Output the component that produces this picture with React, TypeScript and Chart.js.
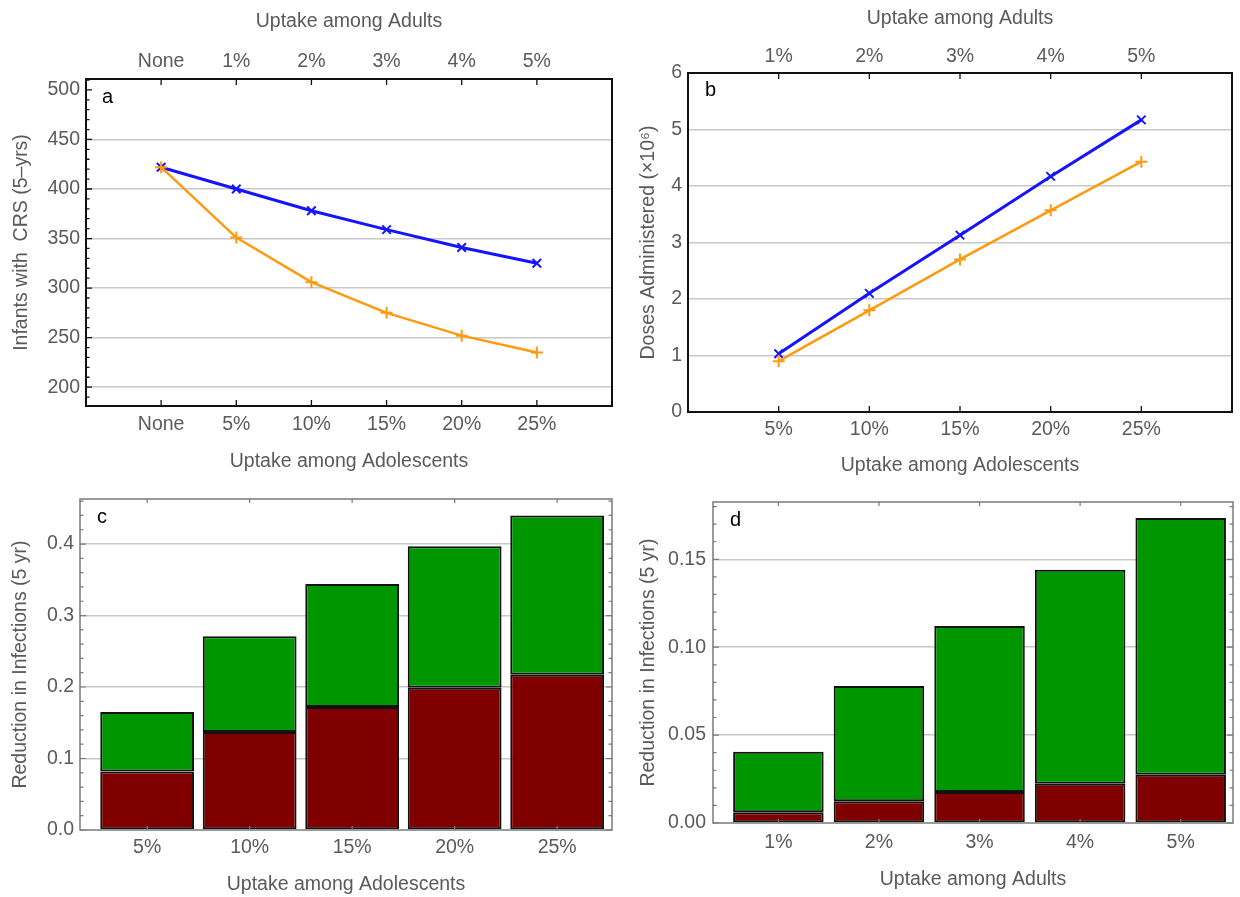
import { useEffect, useRef } from 'react';
import { Chart, registerables } from 'chart.js';

Chart.register(...registerables);

// ---------------- data ----------------
const A_ADOLESCENT_LABELS = ['None', '5%', '10%', '15%', '20%', '25%'];
const A_ADULT_LABELS = ['None', '1%', '2%', '3%', '4%', '5%'];
const A_BLUE = [422, 400, 378, 359, 341, 325];
const A_ORANGE = [422, 351, 306, 275, 252, 235];
const A_Y_TICKS = [200, 250, 300, 350, 400, 450, 500];
const A_Y_GRID = [200, 250, 300, 350, 400, 450];

const B_ADOLESCENT_LABELS = ['5%', '10%', '15%', '20%', '25%'];
const B_ADULT_LABELS = ['1%', '2%', '3%', '4%', '5%'];
const B_BLUE = [1.03, 2.1, 3.13, 4.17, 5.17];
const B_ORANGE = [0.9, 1.8, 2.7, 3.57, 4.43];
const B_Y_TICKS = [0, 1, 2, 3, 4, 5, 6];
const B_Y_GRID = [1, 2, 3, 4, 5];

const C_LABELS = ['5%', '10%', '15%', '20%', '25%'];
const C_RED = [0.082, 0.137, 0.172, 0.199, 0.217];
const C_GREEN = [0.083, 0.134, 0.172, 0.198, 0.223];
const C_Y_TICKS = [0, 0.1, 0.2, 0.3, 0.4];
const C_Y_GRID = [0.1, 0.2, 0.3, 0.4];

const D_LABELS = ['1%', '2%', '3%', '4%', '5%'];
const D_RED = [0.0061, 0.0124, 0.0176, 0.0223, 0.0275];
const D_GREEN = [0.0344, 0.0656, 0.0944, 0.1217, 0.146];
const D_Y_TICKS = [0, 0.05, 0.1, 0.15];
const D_Y_GRID = [0.05, 0.1, 0.15];

// ---------------- style ----------------
const PAGE_W = 1240;
const PAGE_H = 897;
const FAMILY = "'Liberation Sans', Arial, sans-serif";
const FONT_SIZE = 19.5;
const TEXT = '#5a5a5a';
const GRID = '#c8c8c8';
const BLUE = '#1414ff';
const ORANGE = '#ff9a10';
const RED = '#800000';
const GREEN = '#009600';
const EDGE = '#111111';

const font = { family: FAMILY, size: FONT_SIZE };

function fixedSize(size: number, horizontal: boolean) {
  return (s: any) => {
    if (horizontal) s.height = size;
    else s.width = size;
    s.paddingLeft = 0;
    s.paddingRight = 0;
    s.paddingTop = 0;
    s.paddingBottom = 0;
  };
}

function setTicks(values: number[]) {
  return (s: any) => {
    s.ticks = values.map((v) => ({ value: v }));
  };
}

function xAxis(o: any) {
  return {
    type: 'linear',
    position: o.position,
    min: o.min,
    max: o.max,
    offset: false,
    stacked: o.stacked || false,
    afterBuildTicks: setTicks(o.ticks),
    afterFit: fixedSize(o.size, true),
    grid: { display: false, drawTicks: false },
    border: { display: false },
    ticks: {
      autoSkip: false,
      maxRotation: 0,
      padding: o.pad,
      color: TEXT,
      font,
      callback: (_v: any, i: number) => o.labels[i] ?? '',
    },
    title: { display: true, text: o.title, color: TEXT, font, padding: 0 },
  };
}

function yAxis(o: any) {
  return {
    type: 'linear',
    position: 'left',
    min: o.min,
    max: o.max,
    stacked: o.stacked || false,
    afterBuildTicks: setTicks(o.ticks),
    afterFit: fixedSize(o.size, false),
    grid: {
      drawTicks: false,
      lineWidth: 1.5,
      color: (c: any) => (o.grid.includes(c.tick?.value) ? GRID : 'rgba(0,0,0,0)'),
    },
    border: { display: false },
    ticks: {
      autoSkip: false,
      padding: o.pad,
      color: TEXT,
      font,
      callback: (v: number) => o.fmt(v),
    },
    title: { display: true, text: o.title, color: TEXT, font, padding: 0 },
  };
}

function pad(area: any, wl: number, ht: number, hb: number) {
  return {
    left: area.l - wl,
    top: area.t - ht,
    right: PAGE_W - area.r,
    bottom: PAGE_H - area.b - hb,
  };
}

const framePlugin = {
  id: 'panelFrame',
  afterDraw(chart: any, _a: any, o: any) {
    const { ctx, chartArea: A } = chart;
    const xs = chart.scales.x;
    const ys = chart.scales.y;
    ctx.save();
    ctx.strokeStyle = o.color;
    ctx.lineWidth = o.tickWidth;
    ctx.beginPath();
    xs.ticks.forEach((t: any) => {
      const px = xs.getPixelForValue(t.value);
      if (o.xBottom) {
        ctx.moveTo(px, A.bottom);
        ctx.lineTo(px, A.bottom - o.xLen);
      }
      if (o.xTop) {
        ctx.moveTo(px, A.top);
        ctx.lineTo(px, A.top + o.xLen);
      }
    });
    const yTick = (v: number, len: number) => {
      const py = ys.getPixelForValue(v);
      if (o.yLeft) {
        ctx.moveTo(A.left, py);
        ctx.lineTo(A.left + len, py);
      }
      if (o.yRight) {
        ctx.moveTo(A.right, py);
        ctx.lineTo(A.right - len, py);
      }
    };
    if (o.yLeft || o.yRight) {
      ys.ticks.forEach((t: any) => yTick(t.value, o.yLen));
      if (o.minorStep) {
        const n0 = Math.ceil(ys.min / o.minorStep - 1e-9);
        const n1 = Math.floor(ys.max / o.minorStep + 1e-9);
        for (let i = n0; i <= n1; i++) {
          const v = i * o.minorStep;
          if (ys.ticks.some((t: any) => Math.abs(t.value - v) < o.minorStep * 1e-3)) continue;
          yTick(v, o.minorLen);
        }
      }
    }
    ctx.stroke();
    ctx.lineWidth = o.width;
    ctx.strokeRect(A.left, A.top, A.right - A.left, A.bottom - A.top);
    ctx.fillStyle = '#000';
    ctx.font = `20px ${FAMILY}`;
    ctx.textBaseline = 'middle';
    ctx.textAlign = 'left';
    ctx.fillText(o.letter, A.left + o.letterDx, A.top + o.letterDy);
    ctx.restore();
  },
};

const baseOptions = {
  responsive: false,
  animation: false,
  events: [],
  plugins: { legend: { display: false }, tooltip: { enabled: false } },
};

function lineSet(values: number[], color: string, style: string, width: number, order: number) {
  return {
    data: values.map((v, i) => ({ x: i, y: v })),
    borderColor: color,
    backgroundColor: color,
    borderWidth: width,
    pointStyle: style,
    pointRadius: 6,
    pointBorderWidth: 2,
    pointBorderColor: color,
    tension: 0,
    order,
  };
}

function barSet(values: number[], color: string, pct: number) {
  return {
    data: values.map((v, i) => ({ x: i + 1, y: v })),
    backgroundColor: color,
    borderColor: EDGE,
    borderWidth: 2,
    borderSkipped: false,
    barPercentage: pct,
    categoryPercentage: 1,
  };
}

function makeA(canvas: HTMLCanvasElement) {
  const area = { l: 86, t: 79, r: 612, b: 406 };
  const ticks = A_ADOLESCENT_LABELS.map((_, i) => i);
  return new Chart(canvas, {
    type: 'line',
    data: {
      datasets: [
        lineSet(A_BLUE, BLUE, 'crossRot', 3, 1),
        lineSet(A_ORANGE, ORANGE, 'cross', 2.5, 0),
      ],
    },
    options: {
      ...baseOptions,
      layout: { padding: pad(area, 76.4, 69.4, 67.4) },
      scales: {
        x: xAxis({ position: 'bottom', min: -1, max: 6, ticks, labels: A_ADOLESCENT_LABELS, title: 'Uptake among Adolescents', size: 67.4, pad: 7.4 }),
        x2: xAxis({ position: 'top', min: -1, max: 6, ticks, labels: A_ADULT_LABELS, title: 'Uptake among Adults', size: 69.4, pad: 5.4 }),
        y: yAxis({ min: 181, max: 511, ticks: A_Y_TICKS, grid: A_Y_GRID, fmt: (v: number) => String(v), title: 'Infants with  CRS (5\u2013yrs)', size: 76.4, pad: 6 }),
      },
      plugins: {
        ...baseOptions.plugins,
        panelFrame: { color: '#111', width: 2, tickWidth: 1.3, letter: 'a', letterDx: 16, letterDy: 18, xBottom: true, xTop: true, xLen: 6, yLeft: true, yRight: false, yLen: 6, minorStep: 10, minorLen: 3.5 },
      },
    } as any,
    plugins: [framePlugin],
  } as any);
}

function makeB(canvas: HTMLCanvasElement) {
  const area = { l: 688, t: 73, r: 1233, b: 412 };
  const ticks = B_ADOLESCENT_LABELS.map((_, i) => i);
  return new Chart(canvas, {
    type: 'line',
    data: {
      datasets: [
        lineSet(B_BLUE, BLUE, 'crossRot', 3, 1),
        lineSet(B_ORANGE, ORANGE, 'cross', 2.5, 0),
      ],
    },
    options: {
      ...baseOptions,
      layout: { padding: pad(area, 51.4, 66.4, 65.4) },
      scales: {
        x: xAxis({ position: 'bottom', min: -1, max: 5, ticks, labels: B_ADOLESCENT_LABELS, title: 'Uptake among Adolescents', size: 65.4, pad: 6.4 }),
        x2: xAxis({ position: 'top', min: -1, max: 5, ticks, labels: B_ADULT_LABELS, title: 'Uptake among Adults', size: 66.4, pad: 4.4 }),
        y: yAxis({ min: 0, max: 6, ticks: B_Y_TICKS, grid: B_Y_GRID, fmt: (v: number) => String(v), title: 'Doses Administered (\u00d710\u2076)', size: 51.4, pad: 6 }),
      },
      plugins: {
        ...baseOptions.plugins,
        panelFrame: { color: '#111', width: 2, tickWidth: 1.3, letter: 'b', letterDx: 17, letterDy: 17, xBottom: true, xTop: true, xLen: 6, yLeft: false, yRight: false },
      },
    } as any,
    plugins: [framePlugin],
  } as any);
}

function makeBars(canvas: HTMLCanvasElement, cfg: any) {
  const ticks = cfg.labels.map((_: any, i: number) => i + 1);
  return new Chart(canvas, {
    type: 'bar',
    data: {
      datasets: [barSet(cfg.red, RED, cfg.pct), barSet(cfg.green, GREEN, cfg.pct)],
    },
    options: {
      ...baseOptions,
      layout: { padding: pad(cfg.area, cfg.wl, 0, cfg.hb) },
      scales: {
        x: xAxis({ position: 'bottom', min: cfg.xmin, max: cfg.xmax, ticks, labels: cfg.labels, title: cfg.xTitle, size: cfg.hb, pad: cfg.xPad, stacked: true }),
        y: yAxis({ min: 0, max: cfg.ymax, ticks: cfg.yTicks, grid: cfg.yGrid, fmt: cfg.fmt, title: 'Reduction in Infections (5 yr)', size: cfg.wl, pad: cfg.yPad, stacked: true }),
      },
      plugins: {
        ...baseOptions.plugins,
        panelFrame: { color: '#7a7a7a', width: 1.5, tickWidth: 1.2, letter: cfg.letter, letterDx: 17, letterDy: 18, xBottom: true, xTop: true, xLen: 4, yLeft: true, yRight: true, yLen: 6, minorStep: cfg.minorStep, minorLen: 3.5 },
      },
    } as any,
    plugins: [framePlugin],
  } as any);
}

export default function App() {
  const ra = useRef<HTMLCanvasElement>(null);
  const rb = useRef<HTMLCanvasElement>(null);
  const rc = useRef<HTMLCanvasElement>(null);
  const rd = useRef<HTMLCanvasElement>(null);

  useEffect(() => {
    const charts = [
      makeA(ra.current!),
      makeB(rb.current!),
      makeBars(rc.current!, {
        area: { l: 80, t: 499, r: 612, b: 830 },
        wl: 71.4, hb: 66.4, xPad: 6.4, yPad: 6,
        xmin: 0.345, xmax: 5.535, pct: 0.915,
        labels: C_LABELS, red: C_RED, green: C_GREEN,
        ymax: 0.463, yTicks: C_Y_TICKS, yGrid: C_Y_GRID, minorStep: 0.02,
        fmt: (v: number) => v.toFixed(1),
        xTitle: 'Uptake among Adolescents', letter: 'c',
      }),
      makeBars(rd.current!, {
        area: { l: 713, t: 502, r: 1233, b: 823 },
        wl: 76.4, hb: 68.4, xPad: 8.4, yPad: 7,
        xmin: 0.35, xmax: 5.52, pct: 0.9,
        labels: D_LABELS, red: D_RED, green: D_GREEN,
        ymax: 0.1826, yTicks: D_Y_TICKS, yGrid: D_Y_GRID, minorStep: 0.01,
        fmt: (v: number) => v.toFixed(2),
        xTitle: 'Uptake among Adults', letter: 'd',
      }),
    ];
    return () => charts.forEach((c) => c.destroy());
  }, []);

  const cs: any = { position: 'absolute', left: 0, top: 0, width: PAGE_W, height: PAGE_H };
  return (
    <div style={{ position: 'fixed', left: 0, top: 0, width: PAGE_W, height: PAGE_H, background: '#fff' }}>
      <canvas ref={ra} width={PAGE_W} height={PAGE_H} style={cs} />
      <canvas ref={rb} width={PAGE_W} height={PAGE_H} style={cs} />
      <canvas ref={rc} width={PAGE_W} height={PAGE_H} style={cs} />
      <canvas ref={rd} width={PAGE_W} height={PAGE_H} style={cs} />
    </div>
  );
}
